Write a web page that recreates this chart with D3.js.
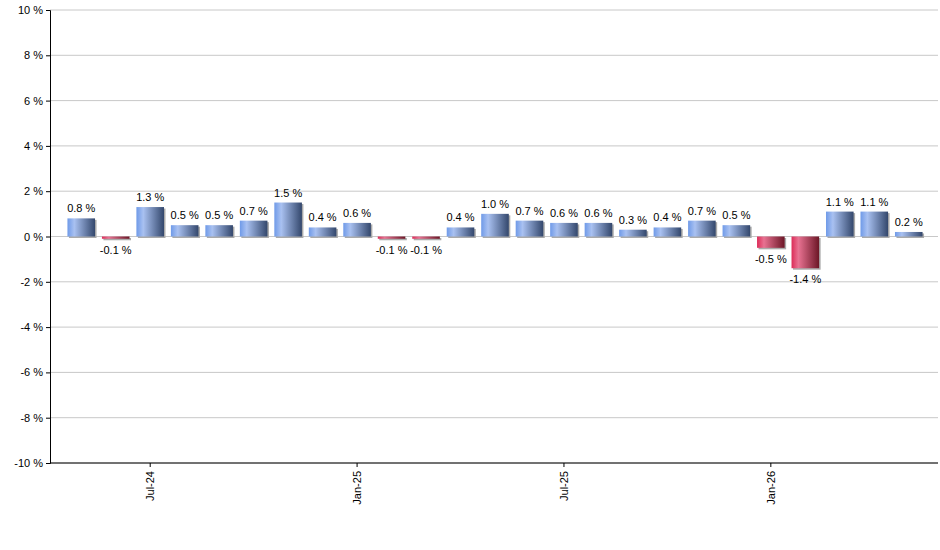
<!DOCTYPE html>
<html>
<head>
<meta charset="utf-8" />
<style>
  body { margin: 0; background: #fff; font-family: "Liberation Sans", Arial, sans-serif; }
  text { font-size: 11px; fill: #000; }
</style>
<script src="https://cdnjs.cloudflare.com/ajax/libs/d3/7.8.5/d3.min.js"></script>
</head>
<body>
<div id="chart"></div>
<script>
var months = ['May-24','Jun-24','Jul-24','Aug-24','Sep-24','Oct-24','Nov-24','Dec-24','Jan-25','Feb-25','Mar-25','Apr-25','May-25',
  'Jun-25','Jul-25','Aug-25','Sep-25','Oct-25','Nov-25','Dec-25','Jan-26','Feb-26','Mar-26','Apr-26','May-26'];
var values = [0.8, -0.1, 1.3, 0.5, 0.5, 0.7, 1.5, 0.4, 0.6, -0.1, -0.1, 0.4, 1.0, 0.7, 0.6, 0.6, 0.3, 0.4, 0.7, 0.5, -0.5, -1.4, 1.1, 1.1, 0.2];
var tickMonths = ['Jul-24', 'Jan-25', 'Jul-25', 'Jan-26'];
var yTicks = [-10, -8, -6, -4, -2, 0, 2, 4, 6, 8, 10];

var W = 940, H = 550;
var plotL = 50, plotR = 938, plotT = 10, plotB = 463;

var svg = d3.select('#chart').append('svg').attr('width', W).attr('height', H);

var x = d3.scaleBand().domain(months).range([64, 926]).paddingInner(0.2).paddingOuter(0.1);
var y = d3.scaleLinear().domain([-10, 10]).range([plotB, plotT]);

var defs = svg.append('defs');
function grad(id, c0, c1, c2) {
  var g = defs.append('linearGradient').attr('id', id).attr('x1', 0).attr('x2', 1).attr('y1', 0).attr('y2', 0);
  g.append('stop').attr('offset', '0%').attr('stop-color', c0);
  g.append('stop').attr('offset', '25%').attr('stop-color', c1);
  g.append('stop').attr('offset', '100%').attr('stop-color', c2);
}
grad('gBlue', '#6f9ae8', '#a9c1f1', '#33476c');
grad('gRed', '#dc2c58', '#e87292', '#6c1626');

// grid
svg.append('g').selectAll('line').data(yTicks).enter().append('line')
  .attr('x1', plotL).attr('x2', plotR)
  .attr('y1', d => y(d)).attr('y2', d => y(d))
  .attr('stroke', '#c8c8c8').attr('stroke-width', 1);

// y axis
var ya = svg.append('g').attr('transform', 'translate(' + plotL + ',0)')
  .call(d3.axisLeft(y).tickValues(yTicks).tickSize(4).tickFormat(d => d + ' %'));
ya.select('.domain').attr('stroke', '#000');
ya.selectAll('text').style('font-size', '11px').style('font-family', '"Liberation Sans", Arial, sans-serif');

// bars shadow + bars
var bars = svg.append('g');
bars.selectAll('rect.sh').data(values).enter().append('rect')
  .attr('x', (d, i) => x(months[i]) + 1.5)
  .attr('y', d => Math.min(y(d), y(0)) + 1.5)
  .attr('width', x.bandwidth())
  .attr('height', d => Math.abs(y(d) - y(0)))
  .attr('fill', '#aaa');
bars.selectAll('rect.b').data(values).enter().append('rect')
  .attr('x', (d, i) => x(months[i]))
  .attr('y', d => Math.min(y(d), y(0)))
  .attr('width', x.bandwidth())
  .attr('height', d => Math.abs(y(d) - y(0)))
  .attr('fill', d => d < 0 ? 'url(#gRed)' : 'url(#gBlue)');

// labels
svg.append('g').selectAll('text').data(values).enter().append('text')
  .attr('x', (d, i) => x(months[i]) + x.bandwidth() / 2)
  .attr('y', d => d < 0 ? y(d) + 15 : y(d) - 6)
  .attr('text-anchor', 'middle')
  .text(d => d.toFixed(1) + ' %');

// x axis
svg.append('line').attr('x1', plotL).attr('x2', plotR).attr('y1', plotB).attr('y2', plotB).attr('stroke', '#000');
var xt = svg.append('g').selectAll('g').data(tickMonths).enter().append('g')
  .attr('transform', d => 'translate(' + (x(d) + x.bandwidth() / 2) + ',' + plotB + ')');
xt.append('line').attr('y1', 0).attr('y2', 4).attr('stroke', '#000');
xt.append('text').attr('transform', 'rotate(-90)').attr('x', -8).attr('y', 4)
  .attr('text-anchor', 'end').text(d => d);
</script>
</body>
</html>
